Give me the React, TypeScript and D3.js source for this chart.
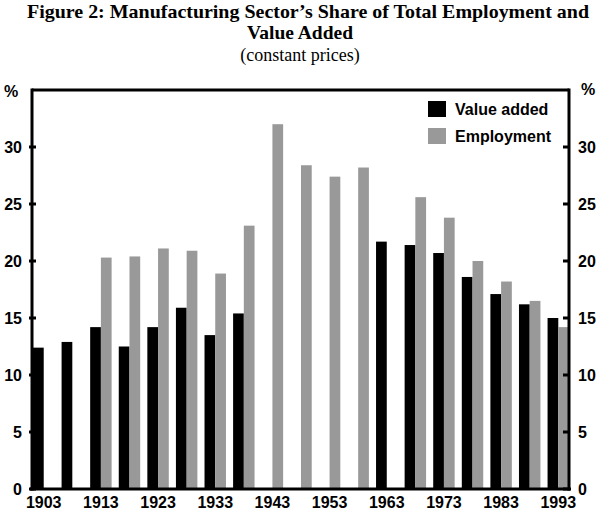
import * as d3 from "d3"

const years = ["1903", "1908", "1913", "1918", "1923", "1928", "1933", "1938", "1943", "1948",
    "1953", "1958", "1963", "1968", "1973", "1978", "1983", "1988", "1993"]
const valueAdded: (number | null)[] = [12.4, 12.9, 14.2, 12.5, 14.2, 15.9, 13.5, 15.4, null, null,
    null, null, 21.7, 21.4, 20.7, 18.6, 17.1, 16.2, 15.0]
const employment: (number | null)[] = [null, null, 20.3, 20.4, 21.1, 20.9, 18.9, 23.1, 32.0, 28.4,
    27.4, 28.2, null, 25.6, 23.8, 20.0, 18.2, 16.5, 14.2]
const yTicks = [0, 5, 10, 15, 20, 25, 30]
const yearLabels = ["1903", "1913", "1923", "1933", "1943", "1953", "1963", "1973", "1983", "1993"]

const seriesNames = ["Value added", "Employment"]
const seriesColors = ["#000000", "#999999"]

export default function App() {
    const width = 600
    const height = 510
    const left = 32
    const right = 569
    const top = 90
    const bottom = 489

    const x = d3.scaleBand<string>().domain(years).range([33, right]).paddingInner(0.25).paddingOuter(0)
    const sub = d3.scaleBand<number>().domain([0, 1]).range([0, x.bandwidth()])
    const y = d3.scaleLinear().domain([0, 35]).range([bottom, top])

    const series = [valueAdded, employment]
    const axisFont = "'Liberation Sans', Arial, sans-serif"
    const titleFont = "'Liberation Serif', 'Times New Roman', serif"

    return (
        <svg width={width} height={height} style={{ position: "absolute", left: 0, top: 0, background: "#fff" }}>
            <g fontFamily={titleFont} textAnchor="middle" fill="#000">
                <text x={308} y={18} fontSize={19.5} fontWeight="bold" textLength={562} lengthAdjust="spacingAndGlyphs">
                    Figure 2: Manufacturing Sector’s Share of Total Employment and
                </text>
                <text x={300} y={39} fontSize={19.5} fontWeight="bold">Value Added</text>
                <text x={300} y={61} fontSize={18}>(constant prices)</text>
            </g>

            {series.map((vals, si) => (
                <g key={si} fill={seriesColors[si]}>
                    {vals.map((v, i) => v === null ? null : (
                        <rect key={i}
                            x={(x(years[i]) ?? 0) + (sub(si) ?? 0)}
                            y={y(v)}
                            width={sub.bandwidth()}
                            height={y(0) - y(v)} />
                    ))}
                </g>
            ))}

            <g stroke="#000" strokeWidth={3} fill="none">
                <line x1={left} x2={right} y1={top} y2={top} />
                <line x1={left} x2={left} y1={top - 1.5} y2={bottom + 1.5} />
                <line x1={right} x2={right} y1={top - 1.5} y2={bottom + 1.5} />
                <line x1={left - 2} x2={right + 2} y1={bottom} y2={bottom} />
                {yTicks.map(t => (
                    <g key={t}>
                        <line x1={left - 3} x2={left + 4} y1={y(t)} y2={y(t)} />
                        <line x1={right - 6} x2={right + 1} y1={y(t)} y2={y(t)} />
                    </g>
                ))}
            </g>

            <g fontFamily={axisFont} fontWeight="bold" fontSize={16} fill="#000">
                {yTicks.map(t => (
                    <g key={t}>
                        <text x={22} y={y(t)} dy="0.36em" textAnchor="end">{t}</text>
                        <text x={578} y={y(t)} dy="0.36em" textAnchor="start">{t}</text>
                    </g>
                ))}
                <text x={11} y={y(35)} dy="0.45em" textAnchor="middle">%</text>
                <text x={588} y={y(35)} dy="0.3em" textAnchor="middle">%</text>
                {yearLabels.map(l => (
                    <text key={l} x={(x(l) ?? 0) + x.bandwidth() / 2} y={508} textAnchor="middle">{l}</text>
                ))}
            </g>

            <g fontFamily={axisFont} fontWeight="bold" fontSize={16} fill="#000">
                {seriesNames.map((n, i) => (
                    <g key={n} transform={`translate(428, ${101 + i * 27})`}>
                        <rect width={18} height={16} fill={seriesColors[i]} />
                        <text x={27} y={13.5}>{n}</text>
                    </g>
                ))}
            </g>
        </svg>
    )
}
